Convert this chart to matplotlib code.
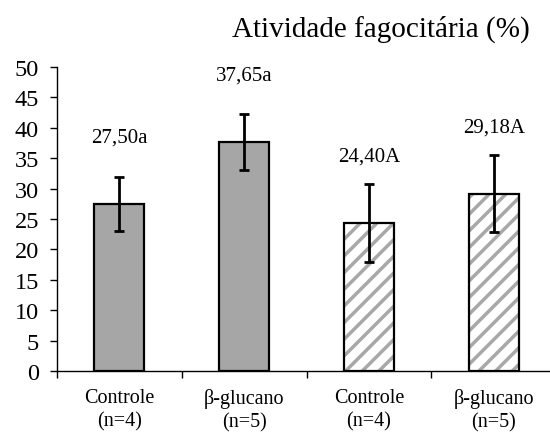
import matplotlib
matplotlib.use('Agg')
import matplotlib.pyplot as plt
import numpy as np

plt.rcParams['font.family'] = ['Liberation Serif', 'DejaVu Serif']
plt.rcParams['hatch.linewidth'] = 2.5

# dados
categories = ['Controle\n(n=4)', 'β-glucano\n(n=5)', 'Controle\n(n=4)', 'β-glucano\n(n=5)']
means = [27.50, 37.65, 24.40, 29.18]
errors = [4.4, 4.65, 6.4, 6.3]
labels = ['27,50a', '37,65a', '24,40A', '29,18A']
hatched = [False, False, True, True]

fig = plt.figure(figsize=(5.5, 4.39), dpi=100)
ax = fig.add_axes([0.1036, 0.1526, 0.8964, 0.6925])

x = np.arange(len(means))
for i in range(len(means)):
    if hatched[i]:
        ax.bar(x[i], means[i], width=0.4, color='white', edgecolor='#a8a8a8',
               hatch='//', linewidth=0, zorder=2)
        ax.bar(x[i], means[i], width=0.4, fill=False, edgecolor='black',
               linewidth=1.6, zorder=3)
    else:
        ax.bar(x[i], means[i], width=0.4, color='#a6a6a6', edgecolor='black',
               linewidth=1.6, zorder=3)

ax.errorbar(x, means, yerr=errors, fmt='none', ecolor='black', elinewidth=2,
            capsize=3.3, capthick=2, zorder=4)

# rótulos acima das barras
for i in range(len(means)):
    ax.annotate(labels[i], (x[i], means[i]), xytext=(0, 48),
                textcoords='offset points', ha='center', va='center', fontsize=15)

ax.set_xlim(-0.5, 3.45)
ax.set_ylim(0, 50)
ax.set_yticks(range(0, 51, 5))
ax.tick_params(axis='y', labelsize=17.5, length=5, width=1, direction='out', pad=8)

ax.set_xticks(x)
ax.set_xticklabels(categories, fontsize=14.5, linespacing=1.3)
ax.tick_params(axis='x', length=0, pad=12)
ax.set_xticks([0.5, 1.5, 2.5, -0.5], minor=True)
ax.tick_params(axis='x', which='minor', length=5, width=1, direction='out')

ax.spines['top'].set_visible(False)
ax.spines['right'].set_visible(False)
ax.spines['left'].set_linewidth(1)
ax.spines['bottom'].set_linewidth(1)

fig.text(0.692, 0.917, 'Atividade fagocitária (%)', ha='center', va='baseline', fontsize=21)

fig.savefig('out.png', dpi=100)
